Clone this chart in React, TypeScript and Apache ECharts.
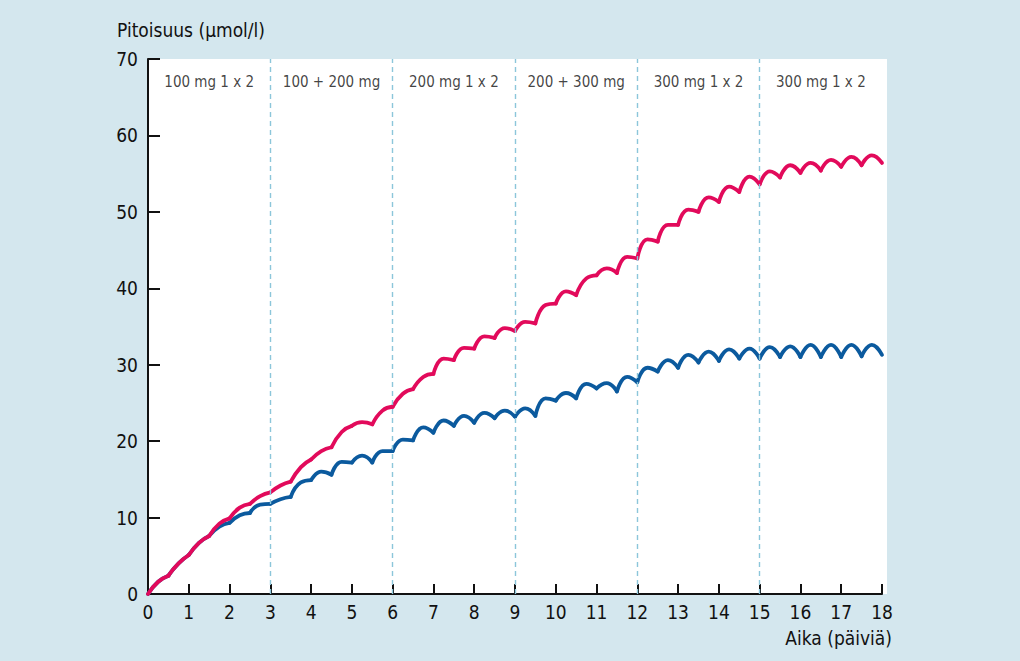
import React, { useEffect, useRef } from "react";
import * as echarts from "echarts";

// Dose times (days) – cusps of the curves
const doseTimes = [
  0, 0.5, 1, 1.5, 2, 2.5, 3, 3.5, 4, 4.5, 5, 5.5, 6, 6.5, 7, 7.5, 8, 8.5, 9,
  9.5, 10, 10.5, 11, 11.5, 12, 12.5, 13, 13.5, 14, 14.5, 15, 15.5, 16, 16.5,
  17, 17.5, 18,
];

// Red curve: values at each dose time and at the middle of each dosing interval
const redTroughs = [
  0, 2.4, 5.1, 7.6, 9.9, 11.8, 13.3, 14.7, 17.6, 19.2, 22.0, 22.2, 24.5, 26.8,
  28.8, 30.6, 32.1, 33.5, 34.4, 35.4, 38.0, 39.1, 41.7, 42.0, 43.9, 46.1, 48.3,
  50.0, 51.3, 52.6, 53.6, 54.5, 55.1, 55.4, 55.9, 56.1, 56.4,
];
const redMids = [
  1.6, 4.0, 6.7, 9.2, 11.3, 12.8, 14.2, 16.6, 18.7, 21.2, 22.5, 24.0, 26.2,
  28.4, 30.8, 32.2, 33.7, 34.8, 35.6, 37.8, 39.6, 41.3, 42.6, 44.1, 46.4, 48.3,
  50.3, 51.9, 53.3, 54.6, 55.3, 56.1, 56.4, 56.8, 57.2, 57.4,
];

// Blue curve
const blueTroughs = [
  0, 2.4, 5.1, 7.6, 9.3, 10.6, 11.8, 12.7, 14.9, 15.6, 17.2, 17.2, 18.7, 20.1,
  21.1, 22.0, 22.4, 23.0, 23.2, 23.3, 25.3, 25.6, 26.9, 26.5, 27.7, 29.1, 29.6,
  30.3, 30.5, 30.8, 30.8, 31.0, 31.0, 31.0, 31.0, 31.1, 31.3,
];
const blueMids = [
  1.6, 4.0, 6.7, 8.8, 10.3, 11.7, 12.4, 14.6, 16.0, 17.3, 18.1, 18.7, 20.2,
  21.8, 22.7, 23.3, 23.7, 24.0, 24.3, 25.6, 26.3, 27.5, 27.6, 28.4, 29.6, 30.6,
  31.3, 31.7, 32.0, 32.1, 32.3, 32.4, 32.6, 32.6, 32.6, 32.6,
];

const phaseBounds = [3, 6, 9, 12, 15];
const phaseCenters = [1.5, 4.5, 7.5, 10.5, 13.5, 16.5];
const phaseLabels = [
  "100 mg 1 x 2",
  "100 + 200 mg",
  "200 mg 1 x 2",
  "200 + 300 mg",
  "300 mg 1 x 2",
  "300 mg 1 x 2",
];
const phaseLabelLevel = 67;

const RED = "#e20a5b";
const BLUE = "#0b5a9e";
const FONT = "'Liberation Sans Narrow', 'DejaVu Sans Condensed', 'Roboto Condensed', sans-serif";

function arches(troughs: number[], mids: number[], color: string, prefix: string) {
  const out: any[] = [];
  for (let k = 0; k < mids.length; k++) {
    const t0 = doseTimes[k];
    const t1 = doseTimes[k + 1];
    out.push({
      name: prefix + k,
      type: "line",
      smooth: 0.5,
      symbol: "none",
      silent: true,
      lineStyle: { color, width: 3.8, cap: "round", join: "round" },
      data: [
        [t0, troughs[k]],
        [(t0 + t1) / 2, mids[k]],
        [t1, troughs[k + 1]],
      ],
      z: 3,
    });
  }
  return out;
}

export default function App() {
  const ref = useRef<HTMLDivElement>(null);
  useEffect(() => {
    if (!ref.current) return;
    const chart = echarts.init(ref.current, undefined, { renderer: "svg" });
    const series: any[] = [
      {
        name: "phases",
        type: "scatter",
        symbolSize: 0,
        silent: true,
        data: phaseCenters.map((c, i) => ({ value: [c, phaseLabelLevel], name: phaseLabels[i] })),
        label: {
          show: true,
          position: "inside",
          formatter: (p: any) => p.name,
          color: "#111",
          fontSize: 15,
          fontFamily: FONT,
        },
        markLine: {
          silent: true,
          symbol: "none",
          label: { show: false },
          lineStyle: { color: "#8cc6da", type: [5, 4], width: 1.4 },
          data: phaseBounds.map((b) => ({ xAxis: b })),
        },
        z: 1,
      },
      ...arches(blueTroughs, blueMids, BLUE, "b"),
      ...arches(redTroughs, redMids, RED, "r"),
    ];
    chart.setOption({
      animation: false,
      backgroundColor: "#d4e7ee",
      grid: { left: 148, right: 138, top: 59, bottom: 67, containLabel: false },
      graphic: [
        {
          type: "rect",
          z: -10,
          shape: { x: 148, y: 59, width: 739, height: 535 },
          style: { fill: "#ffffff" },
          silent: true,
        },
        {
          type: "text",
          left: 117,
          top: 20,
          style: { text: "Pitoisuus (µmol/l)", fill: "#111", font: `19px ${FONT}` },
        },
        {
          type: "text",
          right: 128,
          top: 628,
          style: { text: "Aika (päiviä)", fill: "#111", font: `19px ${FONT}` },
        },
      ],
      xAxis: {
        type: "value",
        min: 0,
        max: 18,
        interval: 1,
        axisLine: { show: true, lineStyle: { color: "#111", width: 2 } },
        axisTick: { show: true, inside: true, length: 10, lineStyle: { color: "#111", width: 2 } },
        axisLabel: { color: "#111", fontSize: 19, fontFamily: FONT, margin: 8 },
        splitLine: { show: false },
      },
      yAxis: {
        type: "value",
        min: 0,
        max: 70,
        interval: 10,
        axisLine: { show: true, lineStyle: { color: "#111", width: 2 } },
        axisTick: { show: true, inside: true, length: 12, lineStyle: { color: "#111", width: 2 } },
        axisLabel: { color: "#111", fontSize: 19, fontFamily: FONT, margin: 10 },
        splitLine: { show: false },
      },
      series,
    });
    return () => chart.dispose();
  }, []);
  return (
    <div
      ref={ref}
      style={{ position: "fixed", left: 0, top: 0, width: 1020, height: 661 }}
    />
  );
}
